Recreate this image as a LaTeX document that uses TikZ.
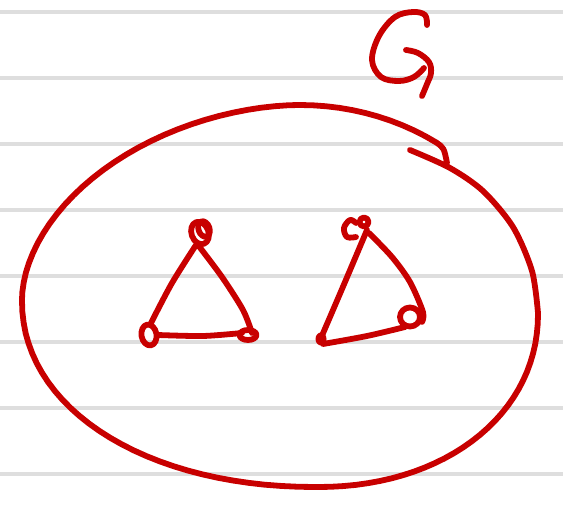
\documentclass[tikz,border=0pt]{standalone}
\definecolor{ink}{HTML}{C80000}
\tikzset{
  pen/.style={draw=ink, line width=5.8pt, line cap=round, line join=round},
  rule/.style={draw=black!13, line width=3.2pt}
}
\begin{document}
\begin{tikzpicture}[x=1pt,y=-1pt]
\fill[white] (0,0) rectangle (563,510);
\useasboundingbox (0,0) rectangle (563,510);
\foreach \y in {12,78,144,210,276,342,408,474} \draw[rule] (0,\y) -- (563,\y);
% the set G (closed loop drawn as one stroke with a hook)
\draw[pen] plot[smooth, tension=0.5] coordinates {(410,150)(450,168)(483,191)(513,227)(532,271)(538,313)}
  -- plot[domain=0:90, samples=30, variable=\t] ({317+221*(abs(cos(\t))+0.0001)^0.952}, {313+174*(abs(sin(\t))+0.0001)^0.952})
  -- plot[domain=90:0, samples=30, variable=\t] ({317-295*(abs(cos(\t))+0.0001)^0.952}, {300+187*(abs(sin(\t))+0.0001)^0.952})
  -- plot[domain=0:90, samples=30, variable=\t] ({300-278*(abs(cos(\t))+0.0001)^1.081}, {300-195*(abs(sin(\t))+0.0001)^1.081})
  -- plot[domain=90:55, samples=12, variable=\t] ({300+238*cos(\t)}, {313-208*sin(\t)})
  .. controls (444,148) .. (447,163);
% label G
\draw[pen] plot[smooth, tension=0.6] coordinates {(427,25)(425,15)(413,12)(395,17)(379,36)(372,60)(381,77)(399,81)(414,77)(424,68)};
\draw[pen] plot[smooth, tension=0.6] coordinates {(406,50)(418,53)(429,62)(431,73)(427,84)(422,96)};
% left triangle
\draw[pen] plot[smooth, tension=0.5] coordinates {(196,245)(172,283)(151,323)};
\draw[pen] plot[smooth, tension=0.5] coordinates {(198,245)(222,277)(243,310)(252,333)};
\draw[pen] plot[smooth, tension=0.5] coordinates {(158,335)(203,336)(242,333)};
\draw[pen] (200,233) ellipse [x radius=8.5, y radius=11.5, rotate=20];
\draw[pen] (204,229) ellipse [x radius=5.5, y radius=8, rotate=20];
\draw[pen] (149,335) ellipse [x radius=7.5, y radius=10.5, rotate=10];
\draw[pen] (248,335) ellipse [x radius=8.5, y radius=5];
% right triangle
\draw[pen] plot[smooth, tension=0.5] coordinates {(367,230)(345,282)(321,338)};
\draw[pen] plot[smooth, tension=0.5] coordinates {(369,233)(392,257)(410,282)(423,312)(422,322)};
\draw[pen] plot[smooth, tension=0.5] coordinates {(323,344)(367,336)(405,327)};
\draw[pen] plot[smooth, tension=0.6] coordinates {(356,223)(350,220)(344,228)(347,237)(356,237)};
\draw[pen] (364,222) ellipse [x radius=4.5, y radius=4.5];
\draw[pen] (410,317) ellipse [x radius=10, y radius=9.5];
\fill[ink] (321,339) ellipse [x radius=5.5, y radius=6.5];
\end{tikzpicture}
\end{document}
